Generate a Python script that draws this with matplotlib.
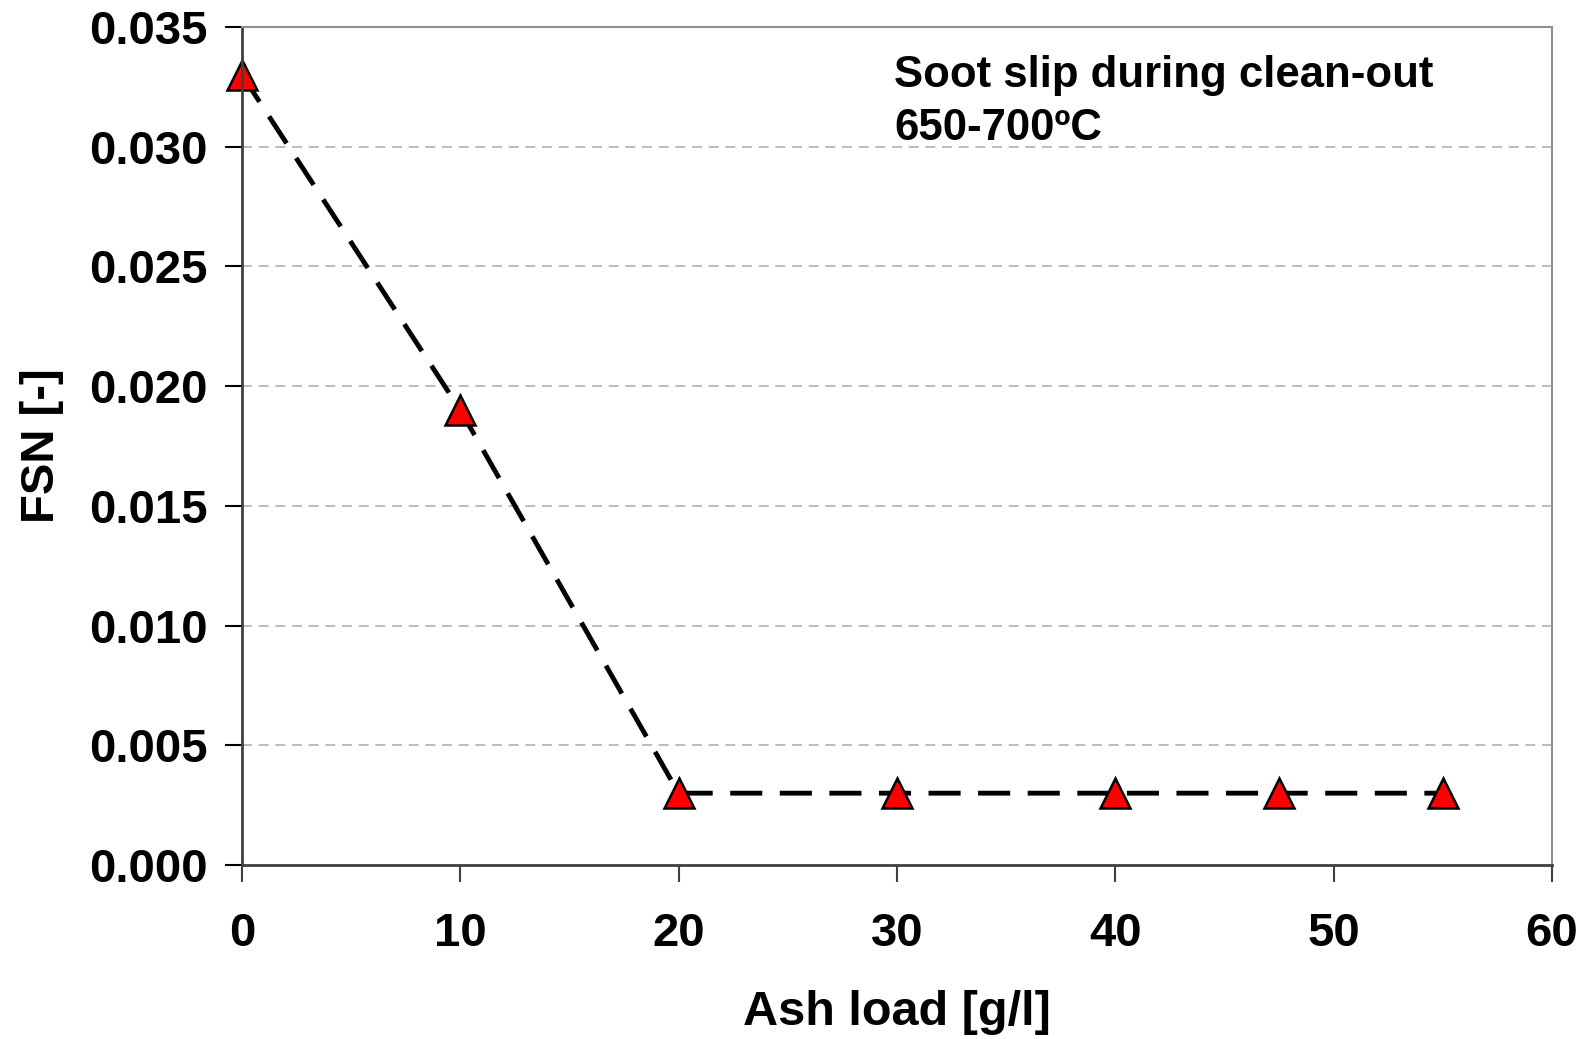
import matplotlib
matplotlib.use("Agg")
import matplotlib.pyplot as plt

ash_load = [0, 10, 20, 30, 40, 47.5, 55]
fsn = [0.033, 0.019, 0.003, 0.003, 0.003, 0.003, 0.003]
x_ticks = [0, 10, 20, 30, 40, 50, 60]
y_ticks = [0.000, 0.005, 0.010, 0.015, 0.020, 0.025, 0.030, 0.035]

plt.rcParams['font.family'] = ['Liberation Sans', 'DejaVu Sans']
plt.rcParams['font.weight'] = 'bold'

fig = plt.figure(figsize=(15.83, 10.39), dpi=100)
ax = fig.add_axes([242/1583, 1 - 865/1039, (1552-242)/1583, (865-27)/1039])

for yt in y_ticks[1:-1]:
    ax.axhline(yt, color='#b0b0b0', lw=1.2, ls=(0, (6, 4)), zorder=1)

ax.plot(ash_load, fsn, color='black', lw=3.5, ls=(0, (6.6, 3.6)), zorder=2,
        marker='^', ms=21, mfc='#ff0000', mec='black', mew=1.8, clip_on=False)

ax.set_xlim(0, 60)
ax.set_ylim(0, 0.035)
ax.set_xticks(x_ticks)
ax.set_yticks(y_ticks)
ax.set_xticklabels([str(v) for v in x_ticks], fontsize=34, fontweight='bold')
ax.set_yticklabels([f"{v:.3f}" for v in y_ticks], fontsize=34, fontweight='bold')
ax.tick_params(axis='x', direction='out', length=12, width=1.5, pad=22, color='#404040')
ax.tick_params(axis='y', direction='out', length=12, width=1.5, pad=13, color='#000000')

for side in ['top', 'right']:
    ax.spines[side].set_color('#909090')
    ax.spines[side].set_linewidth(1.5)
for side in ['left', 'bottom']:
    ax.spines[side].set_color('#404040')
    ax.spines[side].set_linewidth(2)

ax.set_xlabel('Ash load [g/l]', fontsize=35, fontweight='bold', labelpad=24)
ax.set_ylabel('FSN [-]', fontsize=34, fontweight='bold', labelpad=18)

ax.text(0.498, 0.966, 'Soot slip during clean-out\n650-700ºC', transform=ax.transAxes,
        fontsize=31.5, fontweight='bold', va='top', ha='left', linespacing=1.36)

fig.savefig('out.png', dpi=100)
